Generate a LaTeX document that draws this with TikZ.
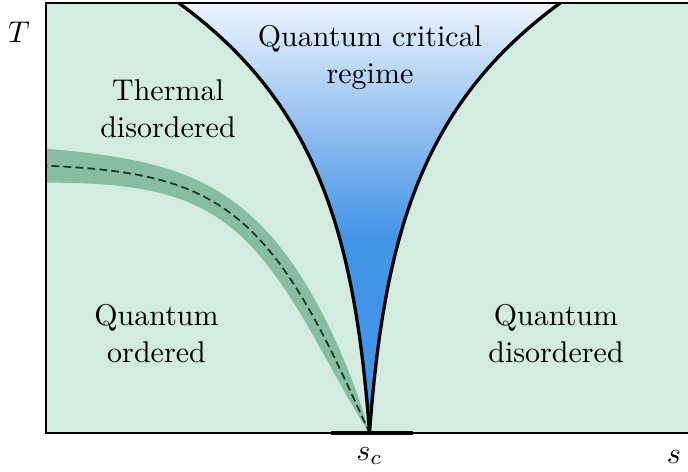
\documentclass[tikz,border=0pt]{standalone}
\definecolor{bgreen}{RGB}{210,236,224}
\definecolor{bandgreen}{RGB}{135,190,160}
\definecolor{dashgreen}{RGB}{25,60,42}
\definecolor{qcblue}{RGB}{66,148,230}
\definecolor{qcmid}{RGB}{130,182,238}
\definecolor{qctop}{RGB}{236,244,253}
\pgfdeclareverticalshading{qcshade}{100bp}{color(0bp)=(qcblue); color(47.5bp)=(qcblue); color(58bp)=(qcmid); color(75bp)=(qctop); color(100bp)=(qctop)}
\begin{document}
\begin{tikzpicture}[x=0.3333pt,y=0.3333pt,
  declare function={
    fc(\t)=10.8*(exp(0.0068*\t)-1);
    bT(\t)=270*tanh(\t/122);
    bs(\t)=2.2131*(1-tanh(\t/122)^2);
    bh(\t)=11*(1-exp(-\t/28))+6*(max(0,\t-120)/204)^1.5;
    bn(\t)=sqrt(1+bs(\t)^2);
  },
  lbl/.style={align=center, inner sep=0pt, anchor=north, font=\fontsize{10}{12.33}\selectfont},
  axlbl/.style={inner sep=0pt, anchor=base},
  critline/.style={line width=1.1pt, black},
  dashline/.style={line width=0.6pt, dashgreen, dash pattern=on 2.6pt off 1.4pt},
  border/.style={line width=0.8pt, black}]
\useasboundingbox (0,0) rectangle (688,471);
\coordinate (qcp) at (369.5,38);
% background
\fill[bgreen] (46,38) rectangle (688,468);
% crossover band with dashed line
\begin{scope}
\clip (46,38) rectangle (688,468);
\fill[bandgreen] plot[variable=\t, domain=0:330, samples=100]
    ({369.5-\t+bh(\t)*bs(\t)/bn(\t)}, {38+bT(\t)+bh(\t)/bn(\t)})
  -- plot[variable=\t, domain=330:0, samples=100]
    ({369.5-\t-bh(\t)*bs(\t)/bn(\t)}, {38+bT(\t)-bh(\t)/bn(\t)}) -- cycle;
\draw[dashline] plot[variable=\t, domain=330:0, samples=90] ({369.5-\t}, {38+bT(\t)}) -- (qcp);
\end{scope}
% quantum critical fan
\shade[shading=qcshade] plot[variable=\t, domain=430:0, samples=90] ({369.5-fc(\t)}, {38+\t})
  -- plot[variable=\t, domain=0:430, samples=90] ({369.5+fc(\t)}, {38+\t}) -- cycle;
\draw[critline] plot[variable=\t, domain=430:0, samples=90] ({369.5-fc(\t)}, {38+\t}) -- (qcp);
\draw[critline] (qcp) -- plot[variable=\t, domain=0:430, samples=90] ({369.5+fc(\t)}, {38+\t});
% axes box
\draw[border] (688,468) -- (46,468) -- (46,38) -- (688,38);
\draw[line width=1.2pt] (331,38) -- (413,38);
% labels
\node[axlbl] (tlab) at (19,429) {$T$};
\node[axlbl] (slab) at (674,8) {$s$};
\node[axlbl] (sclab) at (369.5,11) {$s_c$};
\node[lbl] (qc) at (370,445.8) {Quantum critical\\regime};
\node[lbl] (td) at (168,391.8) {Thermal\\disordered};
\node[lbl] (qo) at (156.5,166.8) {Quantum\\ordered};
\node[lbl] (qd) at (556,166.8) {Quantum\\disordered};
\end{tikzpicture}
\end{document}
